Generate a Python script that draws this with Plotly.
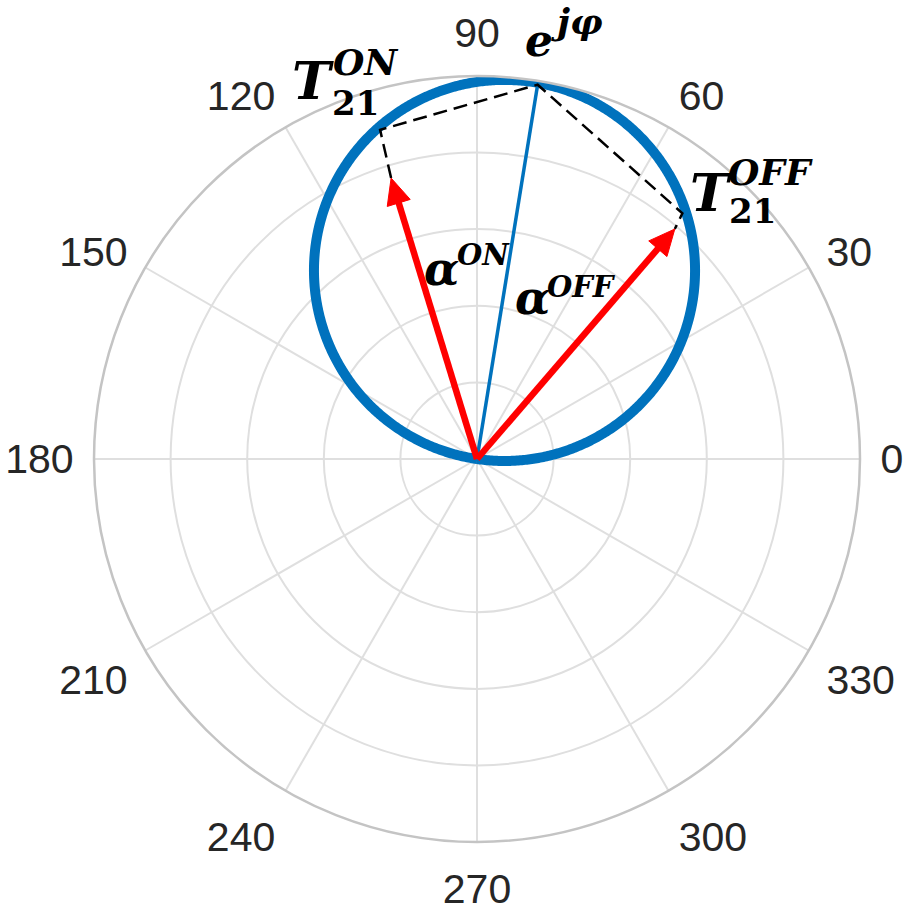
import numpy as np
import plotly.graph_objects as go

# ---------------- data ----------------
angle_ticks = [0, 30, 60, 90, 120, 150, 180, 210, 240, 270, 300, 330]
angle_labels = [str(a) for a in angle_ticks]
radial_ticks = [0.2, 0.4, 0.6, 0.8, 1.0]

# circle through origin: diameter and direction of its diameter
circle_diameter = 0.995
circle_phase = 81.7

# e^{j phi} point (r, theta)
ephi_r = 0.99
ephi_theta = 80.8

# transmission points
t_on_r, t_on_theta = 0.896, 106.4
t_off_r, t_off_theta = 0.836, 50.1

# alpha vectors (arrow tips)
a_on_r, a_on_theta = 0.767, 107.0
a_off_r, a_off_theta = 0.792, 49.3

# ---------------- figure ----------------
W, H = 908, 913
CX, CY, R = 477, 459, 383

BLUE = "#0072BD"
RED = "#FF0000"
HEAD_LEN = 26 / R      # arrow head length (radial units)
HEAD_HALF = 12 / R     # arrow head half width (radial units)

fig = go.Figure()

th = np.linspace(circle_phase - 90, circle_phase + 90, 721)
r_circ = circle_diameter * np.cos(np.deg2rad(th - circle_phase))
fig.add_trace(go.Scatterpolar(r=r_circ, theta=th, mode="lines",
                              line=dict(color=BLUE, width=10), hoverinfo="skip"))

# blue line to e^{j phi}
fig.add_trace(go.Scatterpolar(r=[0, ephi_r], theta=[0, ephi_theta], mode="lines",
                              line=dict(color=BLUE, width=3.5)))

# dashed black lines
fig.add_trace(go.Scatterpolar(r=[a_on_r, t_on_r, ephi_r, t_off_r, a_off_r],
                              theta=[a_on_theta, t_on_theta, ephi_theta, t_off_theta, a_off_theta],
                              mode="lines",
                              line=dict(color="black", width=2.5, dash="14px,7px")))


def to_polar(x, y):
    return np.hypot(x, y), np.rad2deg(np.arctan2(y, x))


# red arrows
for rr, tt in [(a_on_r, a_on_theta), (a_off_r, a_off_theta)]:
    fig.add_trace(go.Scatterpolar(r=[0, rr - HEAD_LEN * 0.6], theta=[0, tt], mode="lines",
                                  line=dict(color=RED, width=6.5)))
    ux, uy = np.cos(np.deg2rad(tt)), np.sin(np.deg2rad(tt))
    tx, ty = rr * ux, rr * uy
    bx, by = tx - HEAD_LEN * ux, ty - HEAD_LEN * uy
    xs = np.array([tx, bx - HEAD_HALF * uy, bx + HEAD_HALF * uy, tx])
    ys = np.array([ty, by + HEAD_HALF * ux, by - HEAD_HALF * ux, ty])
    pr, pt = to_polar(xs, ys)
    fig.add_trace(go.Scatterpolar(r=pr, theta=pt, mode="lines", fill="toself",
                                  fillcolor=RED, line=dict(color=RED, width=1)))

fig.update_layout(
    width=W, height=H,
    margin=dict(l=0, r=0, t=0, b=0),
    paper_bgcolor="white",
    showlegend=False,
    polar=dict(
        domain=dict(x=[(CX - R) / W, (CX + R) / W],
                    y=[(H - CY - R) / H, (H - CY + R) / H]),
        bgcolor="white",
        radialaxis=dict(range=[0, 1], tickvals=radial_ticks, showticklabels=False,
                        ticks="", showline=False, gridcolor="#dfdfdf", gridwidth=1.5),
        angularaxis=dict(direction="counterclockwise", rotation=0,
                         tickvals=angle_ticks, ticktext=angle_labels,
                         tickfont=dict(family="Liberation Sans, Arial", size=41, color="#262626"),
                         ticks="outside", ticklen=11, tickcolor="rgba(0,0,0,0)",
                         showline=True, linecolor="#c4c4c4", linewidth=2.5,
                         gridcolor="#dfdfdf", gridwidth=1.5),
    ),
)

MATH = "DejaVu Serif"


def ann(text, px, py, size, xanchor="center"):
    fig.add_annotation(x=px / W, y=1 - py / H, xref="paper", yref="paper",
                       text=text, showarrow=False, xanchor=xanchor, yanchor="middle",
                       font=dict(family=MATH, size=size, color="black"))


# T21^ON
ann("<b><i>T</i></b>", 313, 81, 52)
ann("<b><i>ON</i></b>", 331, 62, 36, "left")
ann("<b>21</b>", 330, 103, 34, "left")
# T21^OFF
ann("<b><i>T</i></b>", 711, 192, 52)
ann("<b><i>OFF</i></b>", 726, 172, 36, "left")
ann("<b>21</b>", 727, 211, 34, "left")
# alpha^ON
ann("<b><i>α</i></b>", 441, 269, 46)
ann("<b><i>ON</i></b>", 455, 255, 29, "left")
# alpha^OFF
ann("<b><i>α</i></b>", 532, 298, 46)
ann("<b><i>OFF</i></b>", 545, 287, 29, "left")
# e^{j phi}
ann("<b><i>e</i></b>", 539, 40, 44)
ann("<b><i>jφ</i></b>", 549, 21, 36, "left")

fig.write_html("out.html", config={"displayModeBar": False},
               post_script="document.body.style.margin='0';")
